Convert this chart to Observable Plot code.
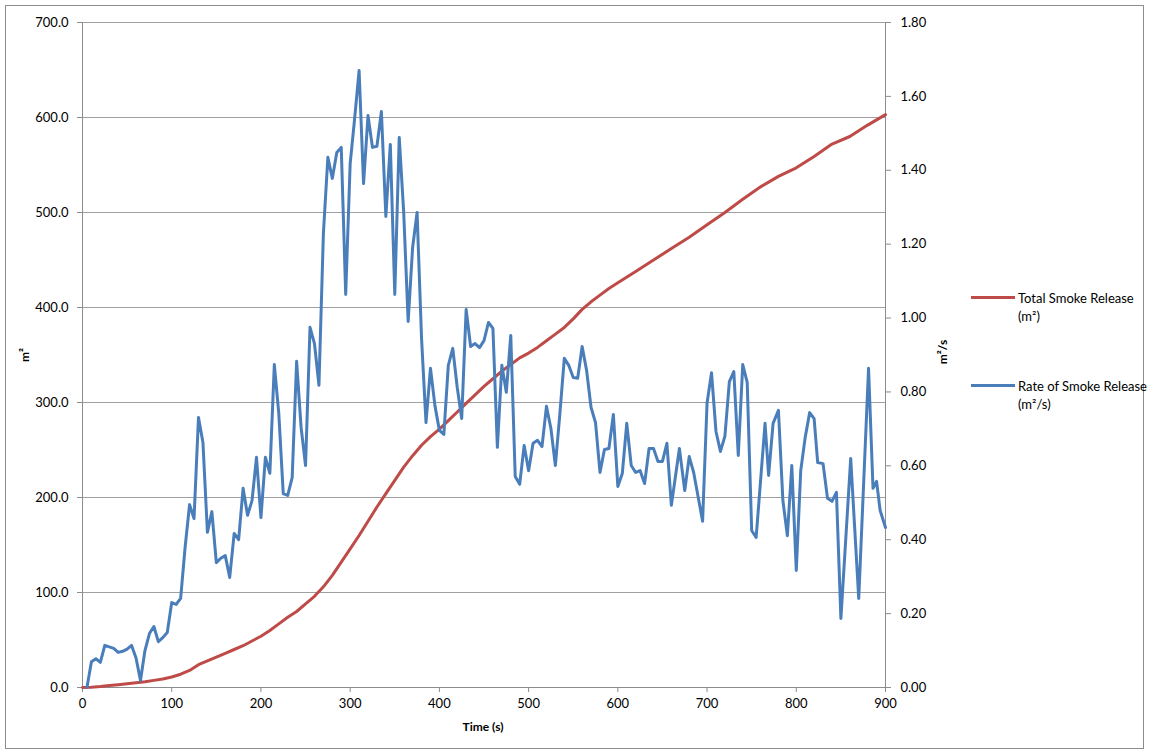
<!DOCTYPE html>
<html>
<head>
<meta charset="utf-8">
<script src="https://cdn.jsdelivr.net/npm/d3@7"></script>
<script src="https://cdn.jsdelivr.net/npm/@observablehq/plot@0.6"></script>
<style>
  html, body { margin: 0; padding: 0; background: #fff; }
  #wrap { position: relative; width: 1149px; height: 755px; font-family: Lato, "Open Sans", sans-serif; color: #000; }
  #border { position: absolute; left: 5px; top: 5px; width: 1139px; height: 744px; border: 1px solid #8c8c8c; box-sizing: border-box; pointer-events: none; }
  .title { position: absolute; font-size: 12px; font-weight: bold; white-space: nowrap; }
  .rot { transform: translate(-50%, -50%) rotate(-90deg); }
  .leg { position: absolute; font-size: 13px; line-height: 18px; }
  .sw { position: absolute; height: 3px; width: 44px; }
</style>
</head>
<body>
<div id="wrap">
  <div id="chart"></div>
  <div id="border"></div>
  <div class="title rot" style="left:24px; top:355px;">m²</div>
  <div class="title rot" style="left:942px; top:352px;">m²/s</div>
  <div class="title" style="left:483px; top:726px; transform: translate(-50%, -50%);">Time (s)</div>
  <div class="sw" style="left:971px; top:296px; background:#BE4B48;"></div>
  <div class="leg" style="left:1018px; top:289px;">Total Smoke Release<br>(m²)</div>
  <div class="sw" style="left:971px; top:384px; background:#4A7EBB;"></div>
  <div class="leg" style="left:1018px; top:377px;">Rate of Smoke Release<br>(m²/s)</div>
</div>
<script>
// ---- data ----
const totalTime  = [0,10,20,30,40,50,60,70,80,90,100,110,120,130,140,150,160,170,180,190,200,210,220,230,240,250,260,270,280,290,300,310,320,330,340,350,360,370,380,390,400,410,420,430,440,450,460,470,480,490,500,510,520,530,540,550,560,570,580,590,600,620,640,660,680,700,720,740,760,780,800,820,840,860,880,900];
const totalValue = [0,0.3,1,2,3,4,5,6,7.5,9,11,14,18,24,28,32,36,40,44,49,54,60,67,74,80,88,96,106,118,132,146,160,175,190,204,218,232,244,255,264,272,281,290,299,308,317,325,333,340,347,352,358,365,372,379,388,398,406,413,420,426,438,450,462,474,487,500,514,527,538,547,559,572,580,592,603];

const rateTime  = [5,10,15,20,25,30,35,40,45,50,55,60,65,70,75,80,85,90,95,100,105,110,115,120,125,130,135,140,145,150,155,160,165,170,175,180,185,190,195,200,205,210,215,220,225,230,235,240,245,250,255,260,265,270,275,280,285,290,295,300,305,310,315,320,325,330,335,340,345,350,355,360,365,370,375,380,385,390,395,400,405,410,415,420,425,430,435,440,445,450,455,460,465,470,475,480,485,490,495,500,505,510,515,520,525,530,535,540,545,550,555,560,565,570,575,580,585,590,595,600,605,610,615,620,625,630,635,640,645,650,655,660,669,675,680,685,695,700,705,710,715,720,725,730,735,740,745,750,755,765,769,774,780,785,790,795,800,805,810,815,820,824,830,835,840,845,850,861,870,881,886,890,894,900];
const rateValue = [0,0.070,0.078,0.068,0.114,0.110,0.106,0.095,0.098,0.104,0.114,0.080,0.019,0.100,0.146,0.165,0.124,0.135,0.149,0.230,0.225,0.241,0.379,0.495,0.457,0.731,0.663,0.420,0.476,0.338,0.350,0.357,0.298,0.417,0.400,0.539,0.466,0.506,0.623,0.460,0.623,0.580,0.874,0.742,0.525,0.520,0.568,0.883,0.704,0.601,0.975,0.931,0.818,1.229,1.435,1.378,1.448,1.462,1.064,1.418,1.540,1.670,1.364,1.548,1.462,1.465,1.559,1.275,1.470,1.064,1.489,1.286,0.991,1.191,1.286,0.945,0.717,0.864,0.763,0.696,0.685,0.872,0.918,0.812,0.728,1.023,0.923,0.931,0.920,0.939,0.988,0.972,0.650,0.872,0.799,0.953,0.571,0.550,0.655,0.587,0.661,0.669,0.652,0.761,0.701,0.601,0.740,0.891,0.872,0.839,0.837,0.923,0.858,0.758,0.717,0.582,0.644,0.647,0.739,0.544,0.579,0.715,0.601,0.582,0.587,0.552,0.647,0.647,0.612,0.612,0.661,0.493,0.647,0.533,0.625,0.582,0.450,0.770,0.852,0.693,0.639,0.680,0.828,0.855,0.628,0.874,0.826,0.425,0.406,0.715,0.574,0.715,0.750,0.506,0.411,0.601,0.317,0.587,0.677,0.744,0.728,0.609,0.606,0.512,0.504,0.528,0.187,0.620,0.241,0.864,0.539,0.558,0.479,0.433];

const xTicks = [0,100,200,300,400,500,600,700,800,900];
const leftTicks = [0,100,200,300,400,500,600,700];
const rightTicks = [0,0.2,0.4,0.6,0.8,1.0,1.2,1.4,1.6,1.8];
const leftMax = 700, rightMax = 1.8;
const k = leftMax / rightMax;

const total = totalTime.map((t, i) => ({t, v: totalValue[i]}));
const rate = rateTime.map((t, i) => ({t, v: rateValue[i]}));

const chart = Plot.plot({
  width: 1149,
  height: 755,
  marginLeft: 82,
  marginRight: 264,
  marginTop: 22,
  marginBottom: 68,
  style: {fontFamily: "Lato, 'Open Sans', sans-serif", fontSize: "13px", color: "#000", background: "transparent"},
  x: {domain: [0, 900]},
  y: {domain: [0, leftMax]},
  marks: [
    Plot.gridY(leftTicks, {stroke: "#a0a0a0", strokeOpacity: 1, strokeWidth: 1}),
    Plot.ruleX([0, 900], {stroke: "#8c8c8c", strokeWidth: 1}),
    Plot.ruleY([0], {stroke: "#8c8c8c", strokeWidth: 1}),
    Plot.axisY(leftTicks, {anchor: "left", tickSize: 5, tickPadding: 9, stroke: "#8c8c8c", tickFormat: d => d.toFixed(1), label: null}),
    Plot.axisY(rightTicks.map(v => v * k), {anchor: "right", tickSize: 5, tickPadding: 10, stroke: "#8c8c8c", tickFormat: d => (d / k).toFixed(2), label: null}),
    Plot.axisX(xTicks, {anchor: "bottom", tickSize: 5, tickPadding: 6, stroke: "#8c8c8c", tickFormat: d => String(d), label: null}),
    Plot.line(total, {x: "t", y: "v", stroke: "#BE4B48", strokeWidth: 3, curve: "linear"}),
    Plot.line(rate, {x: "t", y: d => d.v * k, stroke: "#4A7EBB", strokeWidth: 3, curve: "linear"})
  ]
});
document.getElementById("chart").appendChild(chart);
</script>
</body>
</html>
